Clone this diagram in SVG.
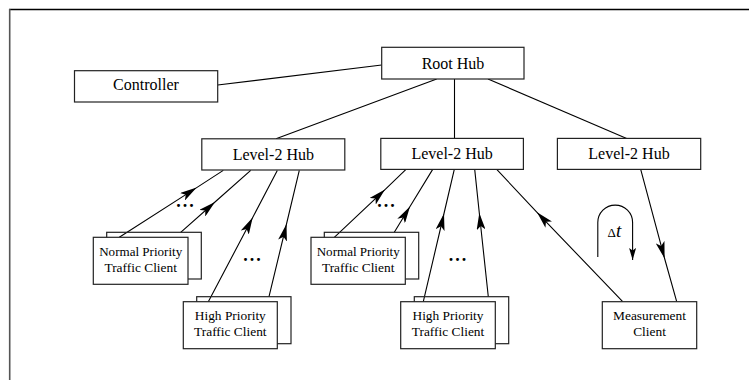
<svg xmlns="http://www.w3.org/2000/svg" width="749" height="380" viewBox="0 0 749 380">
  <style>
    .box { fill: #fff; stroke: #222; stroke-width: 1.2; }
    .back { fill: none; stroke: #222; stroke-width: 1.2; }
    .lbl { font-family: "Liberation Serif", "Times New Roman", serif; fill: #000; text-anchor: middle; }
    .big { font-size: 16px; }
    .small { font-size: 13.4px; }
    .wire { fill: none; stroke: #000; stroke-width: 1.1; }
    .flow { fill: none; stroke: #000; stroke-width: 1.1; marker-mid: url(#head); }
    .dots { font-family: "Liberation Serif", "Times New Roman", serif; font-size: 18px; font-weight: bold; letter-spacing: 2px; text-anchor: middle; }
  </style>
  <defs>
    <marker id="head" viewBox="0 0 17 9" refX="17" refY="4.5" markerWidth="17" markerHeight="9" markerUnits="userSpaceOnUse" orient="auto">
      <path d="M0,0 L17,4.5 L0,9 L4,4.5 z" fill="#000"/>
    </marker>
    <marker id="headSmall" viewBox="0 0 12 7" refX="12" refY="3.5" markerWidth="12" markerHeight="7" markerUnits="userSpaceOnUse" orient="auto">
      <path d="M0,0 L12,3.5 L0,7 L2.5,3.5 z" fill="#000"/>
    </marker>
  </defs>

  <!-- page frame -->
  <g id="frame">
    <line x1="9" y1="9.5" x2="749" y2="9.5" stroke="#000" stroke-width="1.5"/>
    <line x1="9.7" y1="9" x2="9.7" y2="380" stroke="#555" stroke-width="1.6"/>
  </g>

  <!-- connectors -->
  <g id="connectors">
    <!-- hub tree -->
    <line class="wire" x1="217.7" y1="85" x2="381.7" y2="65"/>
    <line class="wire" x1="436.7" y1="79" x2="276" y2="138.8"/>
    <line class="wire" x1="454.5" y1="79" x2="454.5" y2="138.5"/>
    <line class="wire" x1="488" y1="79" x2="626.7" y2="138.5"/>

    <!-- left level-2 hub clients -->
    <path class="flow" d="M119.3,237.3 L196.7,187.6 L223.3,170.4"/>
    <path class="flow" d="M180.7,232.3 L215,202 L250.7,170.4"/>
    <path class="flow" d="M208.3,301.7 L252.7,217.5 L277.3,170.4"/>
    <path class="flow" d="M269,296.7 L286.5,224 L299.3,170.4"/>

    <!-- middle level-2 hub clients -->
    <path class="flow" d="M334.3,237.3 L385,189.6 L406,169.4"/>
    <path class="flow" d="M394.3,232.3 L410,206.5 L432.7,169.4"/>
    <path class="flow" d="M423.3,301.7 L444,213.5 L454.3,169.4"/>
    <path class="flow" d="M488.3,296.7 L479.3,213 L474.7,169.4"/>
    <path class="flow" d="M622.7,301.7 L537,212.3 L496.7,169.4"/>

    <!-- right level-2 hub to measurement client -->
    <path class="flow" d="M640.7,169.4 L664.6,258.5 L676.7,301.7"/>

    <!-- delay loop -->
    <path class="wire" d="M597.8,257 L597.8,222.5 A17.4,17.4 0 0 1 632.6,222.5 L632.6,260" marker-end="url(#headSmall)"/>
  </g>

  <g id="controller">
    <rect class="box" x="74.5" y="70.7" width="143.2" height="31.3"/>
    <text class="lbl big" x="146" y="90">Controller</text>
  </g>

  <g id="root-hub">
    <rect class="box" x="381.7" y="47.3" width="142.3" height="31.7"/>
    <text class="lbl big" x="453" y="68.5">Root Hub</text>
  </g>

  <g id="hub-left">
    <rect class="box" x="201.8" y="138.8" width="143" height="31.2"/>
    <text class="lbl big" x="273.3" y="159.5">Level-2 Hub</text>
  </g>

  <g id="hub-middle">
    <rect class="box" x="380.8" y="138.4" width="142.6" height="31"/>
    <text class="lbl big" x="452.1" y="159.3">Level-2 Hub</text>
  </g>

  <g id="hub-right">
    <rect class="box" x="557.4" y="138.4" width="143.3" height="31"/>
    <text class="lbl big" x="629" y="159.3">Level-2 Hub</text>
  </g>

  <g id="normal-clients-left">
    <rect class="back" x="106.7" y="232.3" width="94.6" height="46.7"/>
    <rect class="box" x="93.3" y="237.3" width="94.7" height="47"/>
    <text class="lbl small" x="140.7" y="256" textLength="83" lengthAdjust="spacingAndGlyphs">Normal Priority</text>
    <text class="lbl small" x="140.7" y="271.7">Traffic Client</text>
  </g>

  <g id="high-clients-left">
    <rect class="back" x="196.7" y="296.7" width="94.3" height="47"/>
    <rect class="box" x="183.3" y="301.7" width="94" height="47"/>
    <text class="lbl small" x="230.3" y="320">High Priority</text>
    <text class="lbl small" x="230.3" y="336">Traffic Client</text>
  </g>

  <g id="normal-clients-middle">
    <rect class="back" x="324.3" y="232.3" width="94.4" height="46.7"/>
    <rect class="box" x="311" y="237.3" width="94.3" height="47"/>
    <text class="lbl small" x="358.2" y="256" textLength="83" lengthAdjust="spacingAndGlyphs">Normal Priority</text>
    <text class="lbl small" x="358.2" y="271.7">Traffic Client</text>
  </g>

  <g id="high-clients-middle">
    <rect class="back" x="414.3" y="296.7" width="94.4" height="47"/>
    <rect class="box" x="400.7" y="301.7" width="94.6" height="47"/>
    <text class="lbl small" x="448" y="320">High Priority</text>
    <text class="lbl small" x="448" y="336">Traffic Client</text>
  </g>

  <g id="measurement-client">
    <rect class="box" x="602.3" y="301.7" width="94.4" height="47"/>
    <text class="lbl small" x="649.5" y="320">Measurement</text>
    <text class="lbl small" x="649.5" y="336">Client</text>
  </g>

  <!-- ellipses between repeated clients -->
  <g id="ellipses">
    <text class="dots" x="186" y="207">...</text>
    <text class="dots" x="253" y="261">...</text>
    <text class="dots" x="387" y="207">...</text>
    <text class="dots" x="458.5" y="261">...</text>
  </g>

  <g id="delay-label">
    <text x="607.5" y="236.7" font-family="'Liberation Serif', 'Times New Roman', serif" font-size="13px">Δ<tspan font-style="italic" font-size="19px">t</tspan></text>
  </g>
</svg>
